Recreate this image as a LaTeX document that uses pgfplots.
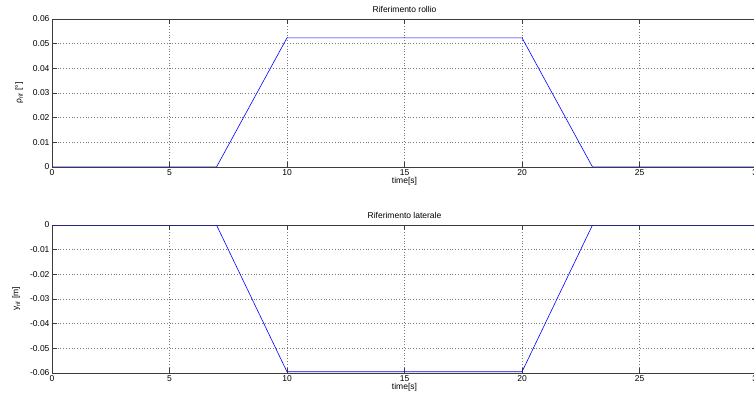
\documentclass[border=0pt]{standalone}
\usepackage{fontspec}
\setmainfont{Liberation Sans}
\usepackage{pgfplots}
\pgfplotsset{compat=1.18}
\definecolor{axgray}{RGB}{60,60,60}
\definecolor{gridgray}{RGB}{120,120,120}
\pgfplotsset{
  mlab/.style={
    scale only axis,
    width=705pt, height=148pt,
    anchor=south west,
    xmin=0, xmax=30,
    xtick={0,5,10,15,20,25,30},
    scaled ticks=false,
    grid=major,
    major grid style={gridgray, dash pattern=on 0.8pt off 2pt, line width=0.5pt},
    axis line style={axgray, line width=0.6pt},
    tick style={axgray, line width=0.6pt},
    major tick length=5pt,
    tick align=inside,
    font=\fontsize{8.5}{10}\selectfont,
    /pgf/number format/assume math mode=true,
    /pgf/number format/fixed,
    /pgf/number format/precision=2,
    yticklabel style={xshift=1pt},
    xticklabel style={yshift=1pt},
    title style={yshift=-3pt},
    xlabel style={yshift=5pt},
    ylabel style={yshift=3pt},
    xlabel={time[s]},
  }
}
\begin{document}
\begin{tikzpicture}
\begin{axis}[mlab, at={(52pt,232pt)},
  ymin=0, ymax=0.06,
  ytick={0,0.01,0.02,0.03,0.04,0.05,0.06},
  title={Riferimento rollio},
  ylabel={ρ\textsubscript{rif} [°]}]
\addplot[blue, line width=0.6pt] coordinates {(0,0) (7,0) (10,0.05236) (20,0.05236) (23,0) (30,0)};
\end{axis}
\begin{axis}[mlab, at={(52pt,26pt)},
  ymin=-0.06, ymax=0,
  ytick={-0.06,-0.05,-0.04,-0.03,-0.02,-0.01,0},
  title={Riferimento laterale},
  ylabel={y\textsubscript{rif} [m]}]
\addplot[blue, line width=0.6pt] coordinates {(0,0) (7,0) (10,-0.0595) (20,-0.0595) (23,0) (30,0)};
\end{axis}
\pgfresetboundingbox
\useasboundingbox (0pt,0pt) rectangle (754pt,399pt);
\end{tikzpicture}
\end{document}
